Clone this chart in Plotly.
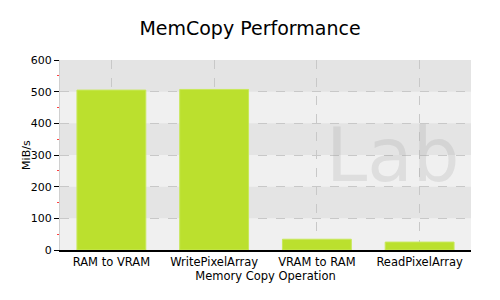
import plotly.graph_objects as go

categories = ["RAM to VRAM", "WritePixelArray", "VRAM to RAM", "ReadPixelArray"]
values = [505, 507, 34, 25]
y_ticks = [0, 100, 200, 300, 400, 500, 600]

fig = go.Figure()
fig.add_trace(go.Bar(
    x=categories, y=values,
    marker=dict(color="#bbe02e", line=dict(color="#c8e85a", width=1)),
    width=0.67,
))

shapes = []
for lo in [100, 300, 500]:
    shapes.append(dict(type="rect", xref="paper", yref="y", x0=0, x1=1, y0=lo, y1=lo + 100,
                       fillcolor="#e4e4e4", line=dict(width=0), layer="below"))

fig.update_layout(
    width=500, height=300,
    margin=dict(l=60, r=29, t=60, b=50),
    paper_bgcolor="white", plot_bgcolor="#f0f0f0",
    font=dict(family="DejaVu Sans, Verdana, sans-serif", size=11.5, color="black"),
    title=dict(text="MemCopy Performance", x=0.5, xanchor="center", y=0.905, yanchor="middle",
               font=dict(size=19, color="black")),
    showlegend=False,
    shapes=shapes,
    annotations=[
        dict(text="Lab", xref="paper", yref="paper", x=0.81, y=0.5, showarrow=False,
             font=dict(size=74, color="rgba(150,150,150,0.2)"), xanchor="center", yanchor="middle"),
        dict(text="MiB/s", xref="paper", yref="paper", x=-0.083, y=0.5, showarrow=False,
             textangle=-90, xanchor="center", yanchor="middle", font=dict(size=11)),
    ],
    xaxis=dict(
        title=dict(text="Memory Copy Operation", standoff=0, font=dict(size=11.5)),
        showgrid=True, gridcolor="#c8c8c8", griddash="dash", gridwidth=1,
        showline=True, linecolor="black", linewidth=1.5,
        ticks="", tickfont=dict(size=11.5), automargin=False,
    ),
    yaxis=dict(
        range=[0, 600], tickvals=y_ticks,
        showgrid=True, gridcolor="#c8c8c8", griddash="dash", gridwidth=1,
        showline=True, linecolor="#d0d0d0", linewidth=1,
        ticks="outside", ticklen=5, tickcolor="black", tickfont=dict(size=11),
        zeroline=False, automargin=False,
        minor=dict(dtick=50, ticks="outside", ticklen=2, tickcolor="#ff4040", showgrid=False),
    ),
    bargap=0.33,
)

fig.write_html("out.html")
